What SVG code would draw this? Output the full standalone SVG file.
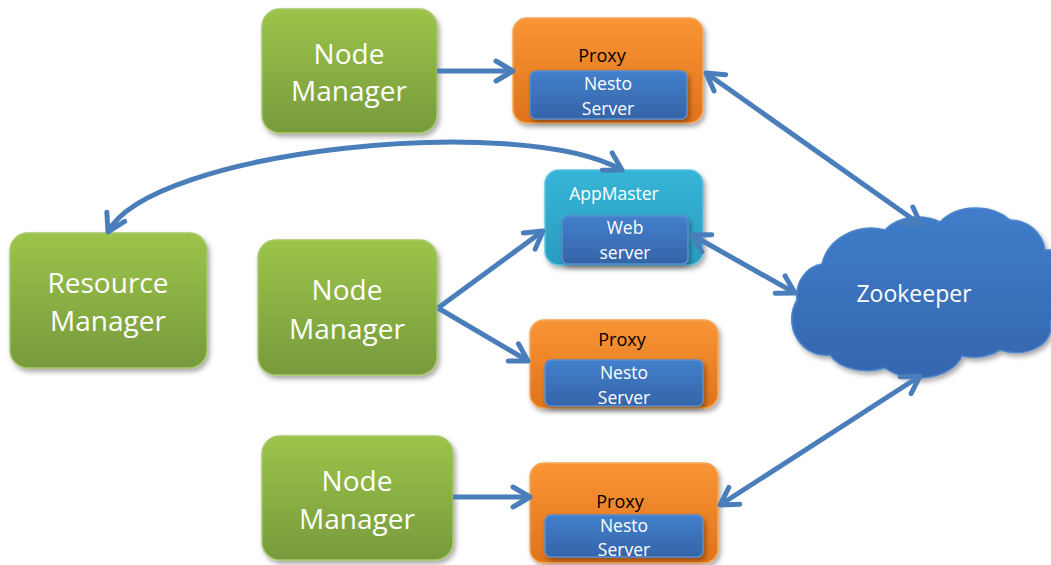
<svg xmlns="http://www.w3.org/2000/svg" width="1051" height="565" viewBox="0 0 1051 565">
<defs>
<linearGradient id="gGreen" x1="0" y1="0" x2="0" y2="1"><stop offset="0" stop-color="#9CC44A"/><stop offset="1" stop-color="#779A3C"/></linearGradient>
<linearGradient id="gOrange" x1="0" y1="0" x2="0" y2="1"><stop offset="0" stop-color="#F99535"/><stop offset="1" stop-color="#E0731C"/></linearGradient>
<linearGradient id="gBlue" x1="0" y1="0" x2="0" y2="1"><stop offset="0" stop-color="#4380CC"/><stop offset="1" stop-color="#3564A8"/></linearGradient>
<linearGradient id="gCyan" x1="0" y1="0" x2="0" y2="1"><stop offset="0" stop-color="#36B5D8"/><stop offset="1" stop-color="#2A9CC0"/></linearGradient>
<linearGradient id="gCloud" x1="0" y1="215" x2="0" y2="380" gradientUnits="userSpaceOnUse"><stop offset="0" stop-color="#3F7CC8"/><stop offset="1" stop-color="#3565AE"/></linearGradient>
<filter id="sh" x="-10%" y="-10%" width="125%" height="130%"><feDropShadow dx="2" dy="3" stdDeviation="2.5" flood-color="#000" flood-opacity="0.35"/></filter>
<marker id="arr" markerUnits="userSpaceOnUse" markerWidth="26" markerHeight="26" viewBox="0 0 26 26" refX="22" refY="13" orient="auto-start-reverse"><path d="M5,3 L22,13 L5,23" fill="none" stroke="#4A7EBB" stroke-width="5" stroke-linecap="round" stroke-linejoin="round"/></marker>
<style>
.nm{fill:url(#gGreen);stroke:#A6C867;stroke-width:1.5;filter:url(#sh)}
.px{fill:url(#gOrange);stroke:#F5A659;stroke-width:1.5;filter:url(#sh)}
.in{fill:url(#gBlue);stroke:#5A8DD0;stroke-width:1.5;filter:url(#sh)}
.am{fill:url(#gCyan);stroke:#5CC3E0;stroke-width:1.5;filter:url(#sh)}
.big{font-family:"Open Sans","Noto Sans",sans-serif;font-size:28px;fill:#fff;text-anchor:middle}
.lbl{font-family:"Open Sans","Noto Sans",sans-serif;font-size:18px;fill:#000;text-anchor:middle}
.wl{font-family:"Open Sans","Noto Sans",sans-serif;font-size:17.5px;fill:#fff;text-anchor:middle}
.c{fill:none;stroke:#4A7EBB;stroke-width:5;marker-end:url(#arr)}
.d{marker-start:url(#arr)}
</style>
</defs>
<rect width="1051" height="565" fill="#fff"/>

<g id="zookeeper">
<path d="M797,300 A30,32 0 0 1 822,264 A50,45 0 0 1 885,230 A40,30 0 0 1 940,222 A45,35 0 0 1 1010,220 A35,35 0 0 1 1045,250 A30,35 0 0 1 1050,322 A35,25 0 0 1 1000,350 A40,30 0 0 1 962,356 A45,30 0 0 1 885,368 A40,25 0 0 1 830,355 A34,36 0 0 1 797,300 Z" fill="url(#gCloud)" stroke="#4F86CC" stroke-width="1.5" filter="url(#sh)"/>
<text class="big" x="914" y="302" style="font-size:23px">Zookeeper</text>
</g>

<g id="nm1"><rect class="nm" x="262" y="9" width="175" height="124" rx="18"/><text class="big" x="349" y="64">Node</text><text class="big" x="349" y="101">Manager</text></g>
<g id="rm"><rect class="nm" x="10" y="233" width="197" height="135" rx="18"/><text class="big" x="108" y="293">Resource</text><text class="big" x="108" y="331">Manager</text></g>
<g id="nm2"><rect class="nm" x="258" y="240" width="179" height="135" rx="18"/><text class="big" x="347" y="300">Node</text><text class="big" x="347" y="339">Manager</text></g>
<g id="nm3"><rect class="nm" x="262" y="436" width="191" height="124" rx="18"/><text class="big" x="357" y="491">Node</text><text class="big" x="357" y="529">Manager</text></g>

<g id="proxy1"><rect class="px" x="513" y="18" width="190" height="105" rx="14"/><text class="lbl" x="602" y="62">Proxy</text><rect class="in" x="530" y="71" width="157" height="48" rx="6"/><text class="wl" x="608" y="90">Nesto</text><text class="wl" x="608" y="115">Server</text></g>
<g id="appmaster"><rect class="am" x="545" y="170" width="158" height="95" rx="14"/><text class="wl" x="614" y="200">AppMaster</text><rect class="in" x="562" y="216" width="126" height="48" rx="6"/><text class="wl" x="625" y="234">Web</text><text class="wl" x="625" y="259">server</text></g>
<g id="proxy2"><rect class="px" x="530" y="320" width="188" height="88" rx="14"/><text class="lbl" x="622" y="346">Proxy</text><rect class="in" x="545" y="360" width="158" height="46" rx="6"/><text class="wl" x="624" y="379">Nesto</text><text class="wl" x="624" y="404">Server</text></g>
<g id="proxy3"><rect class="px" x="530" y="463" width="188" height="100" rx="14"/><text class="lbl" x="620" y="508">Proxy</text><rect class="in" x="545" y="515" width="158" height="42" rx="6"/><text class="wl" x="624" y="532">Nesto</text><text class="wl" x="624" y="556">Server</text></g>

<g id="connectors">
<path class="c" d="M437,71 L513,71"/>
<path class="c d" d="M706,73 L921,225"/>
<path class="c d" d="M108,232 C150,150 520,112 622,170"/>
<path class="c" d="M438,308 L543,231"/>
<path class="c" d="M438,308 L528,361"/>
<path class="c d" d="M692,235 L795,293"/>
<path class="c" d="M453,497 L530,497"/>
<path class="c d" d="M720,505 L920,376"/>
</g>
</svg>
